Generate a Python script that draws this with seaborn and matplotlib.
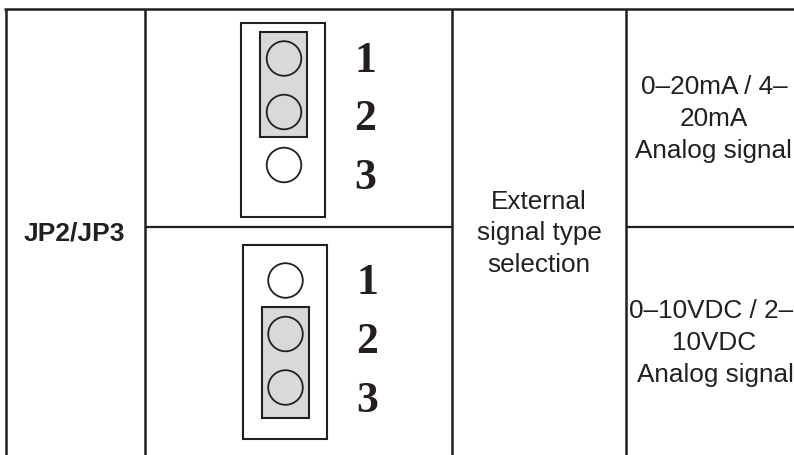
import matplotlib
matplotlib.use("Agg")
import matplotlib.pyplot as plt
from matplotlib.patches import Rectangle
import pandas as pd
import seaborn as sns

INK = "#231f20"
BLOCK_GREY = "#d9d9d9"

# table rules, in image pixels
col_x = [6, 144.5, 451.5, 626]
top_y = 9.7
mid_y = 227.6

# jumper diagrams: outer box, shorted block, pin centres
outer_boxes = [(241, 24, 84, 194), (243, 246, 84, 194)]
shorted_blocks = [(259.5, 33, 47, 105), (261.5, 307.5, 47.5, 111)]
pin_x = [284, 284, 284, 285.5, 285.5, 285.5]
pin_y = [59.5, 113, 166, 281.5, 335, 388.5]

digit_labels = ["1", "2", "3", "1", "2", "3"]
digit_x = [365.5, 365.5, 365.5, 367.5, 367.5, 367.5]
digit_y = [71.5, 130.5, 189, 294, 352.7, 411.7]

# cell text, one entry per line
cell_lines = ["External", "signal type", "selection",
              "0–20mA / 4–", "20mA", "Analog signal",
              "0–10VDC / 2–", "10VDC", "Analog signal"]
cell_x = [539, 539, 539, 714, 714, 713, 711.5, 714, 715]
cell_y = [209, 240.5, 272.5, 94, 126, 158, 318, 350, 382]

sns.set_theme(style="white")
plt.rcParams['font.family'] = ['Liberation Sans', 'DejaVu Sans']

fig = plt.figure(figsize=(7.94, 4.56), dpi=100)
ax = fig.add_axes([0, 0, 1, 1])

for x in col_x:
    ax.plot([x, x], [top_y, 456], color=INK, lw=1.8, solid_capstyle='butt')
ax.plot([4.3, 794], [top_y, top_y], color=INK, lw=1.8, solid_capstyle='butt')
# the External cell spans both rows, so the middle rule skips it
ax.plot([col_x[1], col_x[2]], [mid_y, mid_y], color=INK, lw=1.6, solid_capstyle='butt')
ax.plot([col_x[3], 794], [mid_y, mid_y], color=INK, lw=1.6, solid_capstyle='butt')

for box in outer_boxes:
    ax.add_patch(Rectangle(box[:2], box[2], box[3], fill=False, ec=INK, lw=1.5))
for block in shorted_blocks:
    ax.add_patch(Rectangle(block[:2], block[2], block[3], fc=BLOCK_GREY, ec=INK, lw=1.5))

pins = pd.DataFrame({"x": pin_x, "y": pin_y})
sns.scatterplot(data=pins, x="x", y="y", s=620, facecolor="none", edgecolor=INK,
                linewidth=1.3, ax=ax, zorder=3, legend=False)

for label, x, y in zip(digit_labels, digit_x, digit_y):
    ax.text(x, y, label, family='Liberation Serif', fontweight='bold', fontsize=31.5,
            color=INK, ha='center', va='baseline')

for line, x, y in zip(cell_lines, cell_x, cell_y):
    ax.text(x, y, line, fontsize=18.8, color=INK, ha='center', va='baseline')
ax.text(74.5, 241, "JP2/JP3", fontsize=19, fontweight='bold', color=INK,
        ha='center', va='baseline')

ax.set_xlim(0, 794)
ax.set_ylim(456, 0)
ax.axis('off')

plt.savefig("out.png", dpi=100)
